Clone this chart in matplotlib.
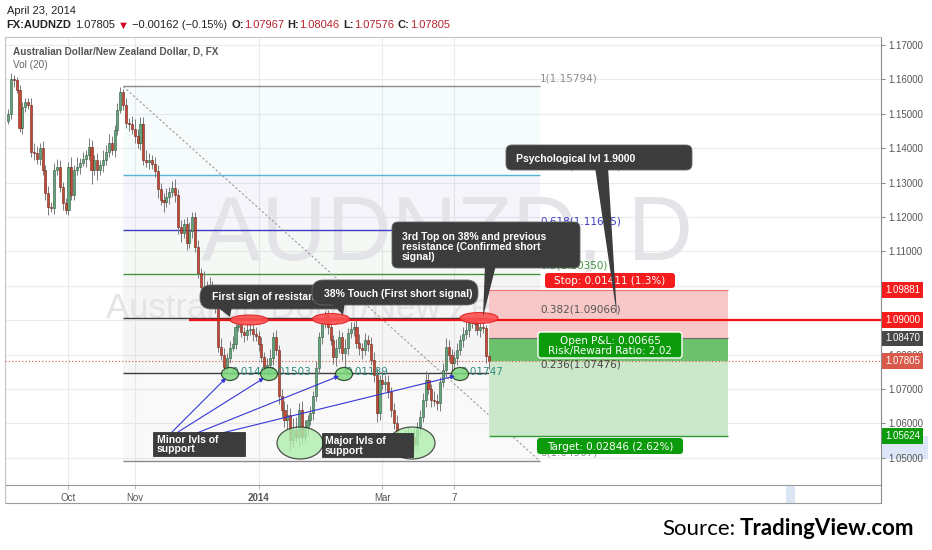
import matplotlib
matplotlib.use("Agg")
import matplotlib.pyplot as plt
import matplotlib.transforms as mtransforms
from matplotlib.patches import Ellipse, FancyBboxPatch, Polygon, Rectangle
import numpy as np

W, H = 932, 550

# --- данные: AUDNZD, дневки 2 сен 2013 .. 23 апр 2014 ---
first_open = 1.1480
closes = [
    1.1500, 1.1600, 1.1598, 1.1570, 1.1460, 1.1520, 1.1535, 1.1525, 1.1390, 1.1386, 1.1370, 1.1400,
    1.1337, 1.1270, 1.1230, 1.1225, 1.1337, 1.1345, 1.1287, 1.1240, 1.1220, 1.1345, 1.1264, 1.1337,
    1.1345, 1.1357, 1.1370, 1.1380, 1.1404, 1.1337, 1.1366, 1.1337, 1.1350, 1.1366, 1.1390, 1.1415,
    1.1395, 1.1453, 1.1511, 1.1563, 1.1526, 1.1473, 1.1470, 1.1455, 1.1435, 1.1415, 1.1470, 1.1366,
    1.1360, 1.1365, 1.1355, 1.1335, 1.1280, 1.1250, 1.1245, 1.1258, 1.1273, 1.1285, 1.1265, 1.1170,
    1.1153, 1.1180, 1.1124, 1.1160, 1.1200, 1.1113, 1.1037, 1.0997, 1.0985, 1.0972, 1.0990, 1.0960,
    1.0940, 1.0822, 1.0800, 1.0764, 1.0790, 1.0820, 1.0830, 1.0880, 1.0885, 1.0865, 1.0858, 1.0872,
    1.0875, 1.0860, 1.0855, 1.0830, 1.0793, 1.0764, 1.0770, 1.0790, 1.0851, 1.0813, 1.0680, 1.0640,
    1.0610, 1.0625, 1.0552, 1.0580, 1.0560, 1.0640, 1.0560, 1.0590, 1.0610, 1.0630, 1.0680, 1.0760,
    1.0851, 1.0892, 1.0915, 1.0880, 1.0842, 1.0793, 1.0820, 1.0851, 1.0805, 1.0820, 1.0863, 1.0875,
    1.0880, 1.0834, 1.0820, 1.0813, 1.0842, 1.0830, 1.0784, 1.0740, 1.0630, 1.0726, 1.0715, 1.0720,
    1.0690, 1.0640, 1.0600, 1.0560, 1.0531, 1.0545, 1.0560, 1.0555, 1.0560, 1.0540, 1.0590, 1.0620,
    1.0668, 1.0726, 1.0700, 1.0668, 1.0665, 1.0660, 1.0720, 1.0755, 1.0822, 1.0800, 1.0776, 1.0790,
    1.0813, 1.0842, 1.0860, 1.0872, 1.0892, 1.0901, 1.0890, 1.0872, 1.0880, 1.0877, 1.07967, 1.07805,
]
# тени свечей в пипсах (верх / низ), на глаз
wick_up = [
    15, 20, 12, 10, 15, 15, 12, 10, 20, 25, 20, 15,
    20, 15, 20, 15, 20, 25, 20, 15, 15, 15, 30, 15,
    30, 15, 20, 15, 25, 20, 15, 20, 15, 30, 20, 25,
    20, 15, 20, 16, 10, 20, 15, 25, 30, 20, 20, 20,
    30, 20, 15, 20, 15, 20, 20, 25, 15, 20, 25, 15,
    20, 15, 20, 25, 15, 15, 20, 15, 45, 30, 35, 25,
    15, 20, 25, 20, 15, 20, 25, 20, 25, 20, 15, 20,
    20, 15, 20, 15, 20, 15, 20, 25, 15, 20, 15, 20,
    25, 30, 20, 35, 40, 20, 25, 20, 15, 20, 15, 20,
    15, 20, 12, 15, 20, 15, 25, 20, 15, 25, 15, 20,
    15, 20, 25, 15, 20, 15, 20, 25, 20, 15, 25, 20,
    20, 15, 20, 25, 15, 25, 20, 30, 20, 25, 15, 20,
    20, 25, 20, 15, 25, 20, 15, 20, 25, 20, 15, 20,
    20, 15, 20, 25, 15, 14, 20, 25, 20, 15, 8, 8,
]
wick_dn = [
    10, 15, 20, 10, 12, 20, 15, 10, 15, 20, 15, 20,
    15, 20, 25, 10, 15, 15, 15, 20, 10, 15, 15, 15,
    15, 20, 10, 25, 15, 40, 15, 30, 15, 20, 15, 15,
    15, 20, 15, 10, 15, 15, 20, 15, 20, 15, 20, 15,
    15, 20, 15, 20, 25, 15, 30, 15, 20, 15, 20, 20,
    25, 15, 20, 15, 20, 15, 15, 20, 15, 20, 15, 20,
    20, 15, 15, 20, 20, 15, 10, 15, 10, 15, 20, 15,
    15, 20, 15, 20, 15, 18, 25, 15, 20, 15, 25, 20,
    20, 25, 30, 20, 15, 25, 20, 15, 25, 15, 20, 15,
    15, 20, 15, 20, 15, 20, 25, 15, 20, 58, 20, 15,
    20, 15, 20, 25, 15, 20, 15, 20, 25, 20, 15, 20,
    15, 20, 15, 20, 20, 15, 25, 20, 15, 20, 15, 20,
    15, 20, 15, 20, 15, 20, 25, 15, 20, 15, 30, 25,
    20, 15, 20, 15, 20, 15, 20, 15, 20, 15, 20, 23,
]

time_ticks = [21, 44, 87, 130, 155]          # номера баров: 1 окт, 1 ноя, 1 янв, 3 мар, 7 апр
time_labels = ["Oct", "Nov", "2014", "Mar", "7"]
price_ticks = [1.05, 1.06, 1.07, 1.08, 1.09, 1.10, 1.11, 1.12, 1.13, 1.14, 1.15, 1.16, 1.17]

fib_ratio = ["1", "0.764", "0.618", "0.5", "0.382", "0.236", "0"]
fib_price = [1.15794, 1.13226, 1.11635, 1.10350, 1.09066, 1.07476, 1.04907]
fib_from, fib_to = 40, 184.7

resist = 1.09000
entry, stop, target, last = 1.08470, 1.09881, 1.05624, 1.07805
pos_from, pos_to = 167, 250

axis_tags = [("1.09881", stop, "#f41c1c"), ("1.09000", resist, "#f41c1c"),
             ("1.08470", entry, "#474747"), ("1.07805", last, "#d95a4b"),
             ("1.05624", target, "#0b9b0b")]

plt.rcParams["font.family"] = ["Liberation Sans", "DejaVu Sans"]

fig = plt.figure(figsize=(W / 100, H / 100), dpi=100)
ax = fig.add_axes([5 / W, 1 - 485 / H, 876 / W, 448 / H])
ax.set_xlim((5 - 8) / 2.88, (881 - 8) / 2.88)
ax.set_ylim(1.17 - (485 - 45) / 3440, 1.17 + (45 - 37) / 3440)
x_right = ax.get_xlim()[1]

# --- свечи ---
c = np.array(closes)
o = np.array([first_open] + closes[:-1])
hi = np.maximum(o, c) + np.array(wick_up) * 1e-4
lo = np.minimum(o, c) - np.array(wick_dn) * 1e-4
xb = np.arange(len(c))
up = c >= o
ax.vlines(xb, lo, hi, color="#7a7a7a", lw=0.7, zorder=4)
ax.bar(xb[up], (c - o)[up], bottom=o[up], width=0.72, color="#62a57a",
       edgecolor="#2d5a3c", linewidth=0.4, zorder=5)
ax.bar(xb[~up], (c - o)[~up], bottom=o[~up], width=0.72, color="#c24a35",
       edgecolor="#6a2418", linewidth=0.4, zorder=5)

# --- водяной знак ---
ax.text(152.4, 1.1075, "AUDNZD, D", ha="center", va="baseline", fontsize=65,
        color="#e4e4e8", zorder=1.5)
ax.text(133, 1.09064, "Australian Dollar/New Zealand Dollar", ha="center", va="baseline",
        fontsize=25, color="#e4e4e8", zorder=1.5)

# --- Фибоначчи ---
fib_line_c = ["#8c8c8c", "#5ab4d6", "#3b3bc4", "#3f953f", "#3c3c3c", "#3c3c3c", "#8c8c8c"]
fib_text_c = ["#8c8c8c", "#5ab4d6", "#3b3bc4", "#3f953f", "#555555", "#444444", "#8c8c8c"]
for i in range(len(fib_price) - 1):
    ax.fill_between([fib_from, fib_to], fib_price[i + 1], fib_price[i],
                    color=fib_line_c[i + 1], alpha=0.05, lw=0, zorder=1)
ax.hlines(fib_price, fib_from, fib_to, colors=fib_line_c, lw=1, zorder=2)
for r, p, col in zip(fib_ratio, fib_price, fib_text_c):
    ax.annotate(f"{r}({p:.5f})", (fib_to, p), xytext=(0, 5), textcoords="offset pixels",
                ha="left", va="baseline", color=col, fontsize=7.5, family="DejaVu Sans",
                zorder=3)
ax.plot([fib_from, fib_to], [fib_price[0], fib_price[-1]], color="#9a9a9a",
        ls=(0, (2, 2)), lw=0.8, zorder=2)

# --- позиция (шорт) ---
ax.fill_between([pos_from, pos_to], entry, stop, color="#f8c8c8", lw=0, zorder=2.2)
ax.fill_between([pos_from, pos_to], last, entry, color="#6cc26c", lw=0, zorder=2.2)
ax.fill_between([pos_from, pos_to], target, last, color="#cbe8cb", lw=0, zorder=2.2)
ax.hlines(stop, pos_from, pos_to, color="#ef7070", lw=0.8, zorder=2.3)
ax.hlines(entry, pos_from, pos_to, color="#6a6a6a", lw=0.8, zorder=2.3)
ax.hlines(target, pos_from, pos_to, color="#2f9a2f", lw=1, zorder=2.3)

ax.hlines(resist, 63, x_right, color="#f01414", lw=1.6, zorder=6)
ax.axhline(last, color="#c8553f", ls=(0, (1, 2)), lw=0.8, zorder=6)

# --- оси ---
tr = mtransforms.blended_transform_factory(ax.transAxes, ax.transData)
ax.add_patch(Rectangle((1.0, 1.0497), 47 / 876, target - 1.0497, transform=tr,
                       fc="#dde6f6", ec="none", clip_on=False, zorder=0))
for s, p, col in axis_tags:
    ax.text(1.0 + 4 / 876, p, s, transform=tr, ha="left", va="center", color="white",
            fontsize=7, bbox=dict(boxstyle="square,pad=0.3", fc=col, ec="none"),
            clip_on=False, zorder=10)

ax.yaxis.tick_right()
ax.set_yticks(price_ticks, [f"{v:.5f}" for v in price_ticks])
ax.tick_params(axis="y", direction="out", length=3, pad=2, labelsize=7,
               labelcolor="#555555", color="#8c8c8c")
ax.set_xticks(time_ticks, time_labels)
ax.tick_params(axis="x", direction="out", length=3, pad=3, labelsize=7,
               labelcolor="#555555", color="#bbbbbb")
ax.get_xticklabels()[2].set_fontweight("bold")
ax.grid(True, color="#ebebeb", lw=0.8)
ax.set_axisbelow(True)
for side, col in [("left", "#c4c4c4"), ("top", "#c4c4c4"), ("right", "#8c8c8c"),
                  ("bottom", "#9a9a9a")]:
    ax.spines[side].set_color(col)

# --- накладной слой в пикселях: заголовок, выноски, метки ---
ov = fig.add_axes([0, 0, 1, 1], zorder=5)
ov.set_xlim(0, W)
ov.set_ylim(H, 0)
ov.axis("off")
renderer = fig.canvas.get_renderer()


def run(pieces, x, y, size):
    for s, kw, gap in pieces:
        t = ov.text(x, y, s, va="baseline", ha="left", fontsize=size, **kw)
        x += t.get_window_extent(renderer=renderer).width + gap


RED = "#b8232f"
B = {"fontweight": "bold", "color": "#222222"}
N = {"color": "#222222"}
ov.text(7, 13.5, "April 23, 2014", fontsize=8, color="#222222", va="baseline")
run([("FX:AUDNZD", B, 4), ("1.07805", N, 3), ("▼", {"color": "#d0021b"}, 3),
     ("−0.00162 (−0.15%)", N, 4),
     ("O:", B, 0), ("1.07967", {"color": RED}, 4),
     ("H:", B, 0), ("1.08046", {"color": RED}, 4),
     ("L:", B, 0), ("1.07576", {"color": RED}, 4),
     ("C:", B, 0), ("1.07805", {"color": RED}, 0)], 6, 28.5, 8)
ov.text(13, 55, "Australian Dollar/New Zealand Dollar, D, FX", fontsize=7.2,
        fontweight="bold", color="#555555", va="baseline")
ov.text(13, 68, "Vol (20)", fontsize=7.2, color="#666666", va="baseline")

# рамка шкалы времени
ov.plot([5, 881], [503, 503], color="#9a9a9a", lw=0.8)
ov.plot([5, 5], [485, 503], color="#c4c4c4", lw=0.8)
ov.plot([881, 881], [485, 503], color="#8c8c8c", lw=0.8)
ov.add_patch(Rectangle((786, 486), 9, 16.5, fc="#dbe6f5", ec="none", zorder=0))

DARK = "#3c3c3c"
z = [10]


def callout(box, tip, lines, tx, ty, r, gap=10):
    x0, y0, x1, y1 = box
    ov.add_patch(FancyBboxPatch((x0, y0), x1 - x0, y1 - y0,
                                boxstyle=f"round,pad=0,rounding_size={r}",
                                fc=DARK, ec="#666666", lw=0.6, zorder=z[0]))
    ov.add_patch(Polygon(tip, closed=True, fc=DARK, ec="none", zorder=z[0] + 0.1))
    for i, s in enumerate(lines):
        ov.text(tx, ty + i * gap, s, color="white", fontweight="bold", fontsize=7.5,
                va="baseline", ha="left", zorder=z[0] + 0.2)
    z[0] += 1


# красные эллипсы - касания сопротивления
for cx, cy, w, h in [(249, 320, 38, 10), (331, 319, 37, 11), (479, 318, 38, 11)]:
    ov.add_patch(Ellipse((cx, cy), w, h, fc="#ff5050", ec="#e02020", lw=0.8,
                         alpha=0.9, zorder=6))

callout((200, 285, 345, 309), [(216, 306), (232, 306), (230, 317)],
        ["First sign of resistance"], 212, 300, 11)
callout((312, 280, 478, 305), [(330, 302), (345, 302), (343, 315)],
        ["38% Touch (First short signal)"], 324, 297, 11)
callout((392, 222, 580, 268), [(485, 265), (496, 265), (483, 317)],
        ["3rd Top on 38% and previous", "resistance (Confirmed short", "signal)"],
        402, 239.5, 6, gap=10)
callout((506, 145, 692, 170), [(595, 167), (608, 167), (617, 316)],
        ["Psychological lvl 1.9000"], 516, 162, 6)

# минорные поддержки
TEAL = "#2f8f7f"
for cx, s in [(231, "0.01488"), (268, "0.01503"), (345, "0.01189"), (460, "0.01747")]:
    ov.text(cx, 375, s, color=TEAL, fontsize=7.5, family="DejaVu Sans", va="baseline",
            ha="left", zorder=6)
for cx in [230, 269, 344, 460]:
    ov.add_patch(Ellipse((cx, 374), 17, 13, fc="#7ed87e", ec="#1e3a1e", lw=0.9,
                         alpha=0.85, zorder=7))
# мажорные поддержки
for cx in [300, 412]:
    ov.add_patch(Ellipse((cx, 443), 46, 32, fc="#aeeeae", ec="#2a2a2a", lw=0.9,
                         alpha=0.8, zorder=7))

for (x0, y0), (x1, y1) in [((172, 432), (226, 378)), ((178, 432), (264, 378)),
                           ((197, 433), (339, 376)), ((222, 433), (455, 376))]:
    ov.annotate("", xy=(x1, y1), xytext=(x0, y0),
                arrowprops=dict(arrowstyle="-|>", color="#3535d8", lw=0.8,
                                mutation_scale=6, shrinkA=0, shrinkB=0), zorder=8)

for (x0, y0, w, h), tx, lines in [((153, 432, 92, 24), 157, ["Minor lvls of", "support"]),
                                  ((322, 433, 91, 24), 325, ["Major lvls of", "support"])]:
    ov.add_patch(Rectangle((x0, y0), w, h, fc=DARK, ec="#222222", lw=0.5, zorder=9))
    for i, s in enumerate(lines):
        ov.text(tx, y0 + 11 + i * 9.5, s, color="white", fontweight="bold", fontsize=7.5,
                va="baseline", ha="left", zorder=9.2)

# таблички инструмента позиции
GREEN = "#0b9b0b"
DV = {"family": "DejaVu Sans", "fontsize": 7.5, "color": "white", "ha": "center",
      "va": "baseline"}
ov.add_patch(FancyBboxPatch((545, 273), 130, 15, boxstyle="round,pad=0,rounding_size=3",
                            fc="#f41c1c", ec="none", zorder=9))
ov.text(610, 284, "Stop: 0.01411 (1.3%)", zorder=9.2, **DV)
ov.add_patch(FancyBboxPatch((538, 332), 144, 26, boxstyle="round,pad=0,rounding_size=3",
                            fc=GREEN, ec="white", lw=1, zorder=9))
ov.text(610, 344, "Open P&L: 0.00665", zorder=9.2, **DV)
ov.text(610, 354, "Risk/Reward Ratio: 2.02", zorder=9.2, **DV)
ov.add_patch(FancyBboxPatch((537, 438), 146, 16, boxstyle="round,pad=0,rounding_size=3",
                            fc=GREEN, ec="none", zorder=9))
ov.text(610, 450, "Target: 0.02846 (2.62%)", zorder=9.2, **DV)

# подпись источника
run([("Source:", {"family": "Lato", "color": "black"}, 5),
     ("TradingView.com", {"family": "Lato", "color": "black", "fontweight": "bold"}, 0)],
    662, 535, 16)

fig.savefig("out.png", dpi=100)
